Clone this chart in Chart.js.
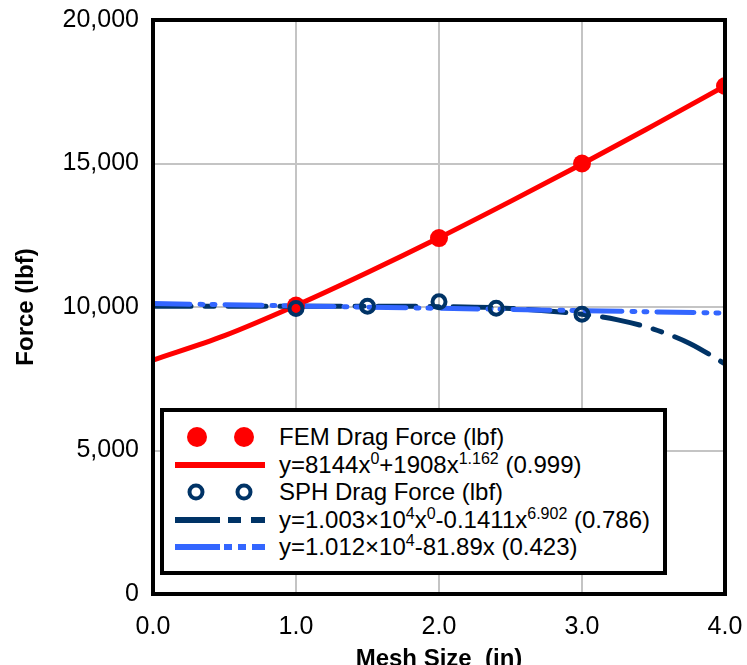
<!DOCTYPE html>
<html>
<head>
<meta charset="utf-8">
<script src="https://cdn.jsdelivr.net/npm/chart.js@4.4.1/dist/chart.umd.min.js"></script>
<style>
  html, body { margin:0; padding:0; background:#fff; }
  #wrap { position:relative; width:747px; height:665px; overflow:hidden; }
  #legend {
    position:absolute; left:160px; top:408px; width:507px; height:167px;
    box-sizing:border-box; border:4px solid #000; background:#fff;
    padding-top:11px; font-family:"Liberation Sans", Arial, sans-serif; font-size:24px; color:#000;
  }
  .row { position:relative; height:27.6px; line-height:27.6px; white-space:nowrap; }
  .row svg { position:absolute; left:11px; top:0; }
  .row span.t { position:absolute; left:115px; top:0; }
  sup { font-size:16px; line-height:0; vertical-align:9px; }
</style>
</head>
<body>
<div id="wrap">
  <canvas id="c" width="747" height="665"></canvas>
  <div id="legend"></div>
</div>
<script>
// values
const femX = [1, 2, 3, 4];
const femY = [10050, 12400, 15000, 17700];
const sphX = [1, 1.5, 2, 2.4, 3];
const sphY = [9950, 10030, 10180, 9960, 9750];
const femFitX = [0, 0.5, 1, 1.5, 2, 2.5, 3, 3.5, 4];
const femFitY = [8150, 9000, 10050, 11200, 12410, 13680, 14980, 16330, 17700];
const sphFitX = [0, 1, 1.5, 2, 2.5, 3, 3.25, 3.5, 3.75, 4];
const sphFitY = [10030, 10030, 10028, 10013, 9950, 9750, 9550, 9230, 8740, 8020];
const linFitX = [0, 4];
const linFitY = [10120, 9790];
const xTicks = [0, 1, 2, 3, 4];
const yTicks = [0, 5000, 10000, 15000, 20000];

const RED = '#ff0000', NAVY = '#003366', BLUE = '#3366ff';
const FONT = '"Liberation Sans", Arial, sans-serif';

const pts = (xs, ys) => xs.map((x, i) => ({ x, y: ys[i] }));

const frame = {
  id: 'frame',
  afterDraw(chart){
    const a = chart.chartArea, ctx = chart.ctx;
    ctx.save(); ctx.strokeStyle = '#000'; ctx.lineWidth = 4;
    ctx.strokeRect(a.left, a.top, a.right - a.left, a.bottom - a.top);
    ctx.restore();
  }
};

new Chart(document.getElementById('c'), {
  type: 'scatter',
  data: { datasets: [
    { label: 'SPH Drag Force (lbf)', data: pts(sphX, sphY), order: 0,
      pointRadius: 6.5, borderWidth: 4, borderColor: NAVY, backgroundColor: 'transparent' },
    { label: 'FEM Drag Force (lbf)', data: pts(femX, femY), order: 1,
      pointRadius: 9, borderWidth: 0, backgroundColor: RED },
    { label: 'lin fit', data: pts(linFitX, linFitY), order: 2, showLine: true, pointRadius: 0,
      borderColor: BLUE, borderWidth: 5, borderCapStyle: 'round', borderDash: [37, 10, 3, 9, 3, 10] },
    { label: 'sph fit', data: pts(sphFitX, sphFitY), order: 3, showLine: true, pointRadius: 0,
      borderColor: NAVY, borderWidth: 5, borderCapStyle: 'round', borderDash: [38, 14, 9, 14],
      cubicInterpolationMode: 'monotone' },
    { label: 'fem fit', data: pts(femFitX, femFitY), order: 4, showLine: true, pointRadius: 0,
      borderColor: RED, borderWidth: 5, cubicInterpolationMode: 'monotone' }
  ]},
  options: {
    responsive: false, animation: false, devicePixelRatio: 1,
    layout: { padding: { left: 0, right: 22, top: 20, bottom: 0 } },
    plugins: { legend: { display: false }, tooltip: { enabled: false } },
    scales: {
      x: {
        type: 'linear', min: 0, max: 4,
        afterBuildTicks: s => { s.ticks = xTicks.map(v => ({ value: v })); },
        afterFit: s => { s.height = 71; s.paddingLeft = 0; s.paddingRight = 0; },
        grid: { color: '#c4c4c4', lineWidth: 2, drawTicks: false },
        border: { display: false },
        ticks: { padding: 18, color: '#000', font: { family: FONT, size: 25 }, callback: v => v.toFixed(1) },
        title: { display: true, text: 'Mesh Size  (in)', color: '#000',
                 font: { family: FONT, size: 24, weight: 'bold' }, padding: { top: 0, bottom: -9 } }
      },
      y: {
        type: 'linear', min: 0, max: 20000,
        afterBuildTicks: s => { s.ticks = yTicks.map(v => ({ value: v })); },
        afterFit: s => { s.width = 153; s.paddingTop = 0; s.paddingBottom = 0; },
        grid: { color: '#c4c4c4', lineWidth: 2, drawTicks: false },
        border: { display: false },
        ticks: { padding: 14, color: '#000', font: { family: FONT, size: 25 }, callback: v => v.toLocaleString('en-US') },
        title: { display: true, text: 'Force (lbf)', color: '#000',
                 font: { family: FONT, size: 24, weight: 'bold' }, padding: { top: 12, bottom: 0 } }
      }
    }
  },
  plugins: [frame]
});

// legend with superscripts
const svg = inner => '<svg width="90" height="28" viewBox="0 0 90 28">' + inner + '</svg>';
const legendRows = [
  [svg('<circle cx="22" cy="14" r="10" fill="' + RED + '"/><circle cx="69" cy="14" r="10" fill="' + RED + '"/>'),
   'FEM Drag Force (lbf)'],
  [svg('<line x1="0" y1="14" x2="90" y2="14" stroke="' + RED + '" stroke-width="6"/>'),
   'y=8144x<sup>0</sup>+1908x<sup>1.162</sup> (0.999)'],
  [svg('<circle cx="21" cy="14" r="6.5" fill="none" stroke="' + NAVY + '" stroke-width="4"/><circle cx="69" cy="14" r="6.5" fill="none" stroke="' + NAVY + '" stroke-width="4"/>'),
   'SPH Drag Force (lbf)'],
  [svg('<line x1="0" y1="14" x2="90" y2="14" stroke="' + NAVY + '" stroke-width="6" stroke-dasharray="45 8 13 10 14"/>'),
   'y=1.003×10<sup>4</sup>x<sup>0</sup>-0.1411x<sup>6.902</sup> (0.786)'],
  [svg('<line x1="0" y1="14" x2="90" y2="14" stroke="' + BLUE + '" stroke-width="6" stroke-dasharray="45 4 8 6 8 6 13"/>'),
   'y=1.012×10<sup>4</sup>-81.89x (0.423)']
];
document.getElementById('legend').innerHTML = legendRows
  .map(r => '<div class="row">' + r[0] + '<span class="t">' + r[1] + '</span></div>').join('');
</script>
</body>
</html>
